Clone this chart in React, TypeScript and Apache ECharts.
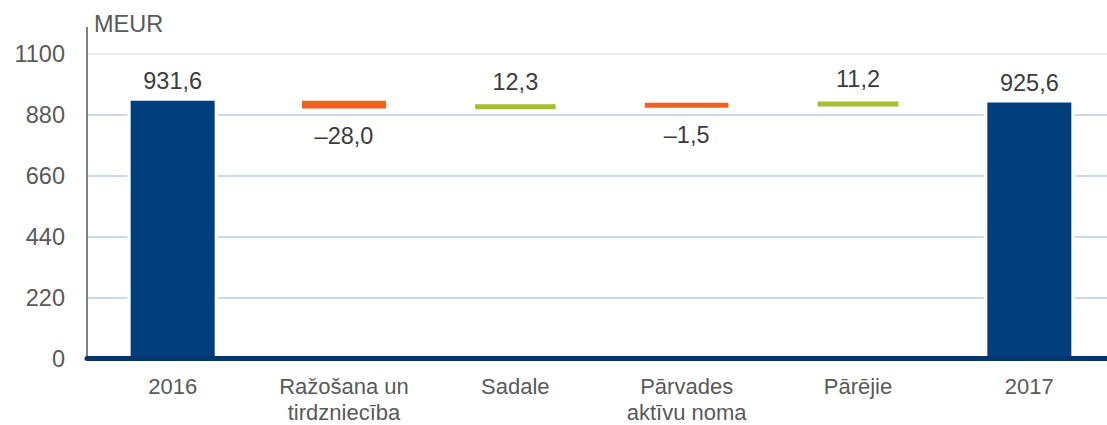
import React, { useEffect, useRef } from "react";
import * as echarts from "echarts";

const categories = ["2016", "Ražošana un\ntirdzniecība", "Sadale", "Pārvades\naktīvu noma", "Pārējie", "2017"];
const startTotal = 931.6;
const deltas = [-28.0, 12.3, -1.5, 11.2];
const endTotal = 925.6;
const yTicks = [0, 220, 440, 660, 880, 1100];

const NAVY = "#023e7d";
const ORANGE = "#f15f22";
const GREEN = "#a5bf32";

function fmt(v: number): string {
  const s = Math.abs(v).toFixed(1).replace(".", ",");
  return v < 0 ? "\u2013" + s : s;
}

export default function App() {
  const ref = useRef<HTMLDivElement>(null);
  useEffect(() => {
    if (!ref.current) return;
    const chart = echarts.init(ref.current, null, { renderer: "svg" });

    const baseVals: number[] = [0];
    const barVals: any[] = [];
    let running = startTotal;
    barVals.push({
      value: startTotal,
      itemStyle: { color: NAVY, borderWidth: 0 },
      label: { position: "top", distance: 8, formatter: () => fmt(startTotal) },
    });
    deltas.forEach((d) => {
      const next = running + d;
      baseVals.push(Math.min(running, next));
      const col = d < 0 ? ORANGE : GREEN;
      barVals.push({
        value: Math.abs(d),
        itemStyle: { color: col, borderColor: col, borderWidth: 5 },
        label: d < 0
          ? { position: "bottom", distance: 16, formatter: () => fmt(d) }
          : { position: "top", distance: 11, formatter: () => fmt(d) },
      });
      running = next;
    });
    baseVals.push(0);
    barVals.push({
      value: endTotal,
      itemStyle: { color: NAVY, borderWidth: 0 },
      label: { position: "top", distance: 8, formatter: () => fmt(endTotal) },
    });

    const haloData = [
      [0, startTotal],
      [categories.length - 1, endTotal],
    ];

    const FONT = "Liberation Sans, Arial, sans-serif";
    const BAR_W = 84;

    chart.setOption({
      animation: false,
      grid: { left: 87, right: 0, top: 54.2, bottom: 64.8, containLabel: false },
      xAxis: {
        type: "category",
        data: categories,
        z: 5,
        axisLine: { show: true, lineStyle: { color: "#04356b", width: 5 } },
        axisTick: { show: false },
        axisLabel: {
          color: "#595959",
          fontSize: 22,
          fontFamily: FONT,
          lineHeight: 25.5,
          margin: 15.5,
          interval: 0,
        },
      },
      yAxis: {
        type: "value",
        min: yTicks[0],
        max: yTicks[yTicks.length - 1],
        interval: 220,
        axisLine: { show: false },
        axisTick: { show: false },
        axisLabel: {
          color: "#595959",
          fontSize: 23.5,
          fontFamily: FONT,
          margin: 22,
          formatter: (v: number) => String(v),
        },
        splitLine: {
          show: true,
          lineStyle: {
            color: ["#c9d8eb", "#c9d8eb", "#c9d8eb", "#c9d8eb", "#c9d8eb", "#e4ebf5"],
            width: 2,
          },
        },
      },
      graphic: [
        {
          type: "line",
          shape: { x1: 87, y1: 27, x2: 87, y2: 358 },
          style: { stroke: "#808080", lineWidth: 2 },
          z: 1,
        },
        {
          type: "text",
          x: 94,
          y: 24.2,
          style: {
            text: "MEUR",
            fill: "#595959",
            font: `23.5px ${FONT}`,
            verticalAlign: "middle",
            align: "left",
          },
        },
      ],
      series: [
        {
          type: "custom",
          name: "halo",
          z: 1,
          silent: true,
          data: haloData,
          renderItem: (params: any, api: any) => {
            const top = api.coord([api.value(0), api.value(1)]);
            const base = api.coord([api.value(0), 0]);
            const w = BAR_W + 7;
            return {
              type: "rect",
              shape: { x: top[0] - w / 2, y: top[1] - 3.5, width: w, height: base[1] - top[1] + 3.5 },
              style: { fill: "#ffffff" },
            };
          },
        },
        {
          type: "bar",
          name: "base",
          stack: "wf",
          barWidth: BAR_W,
          itemStyle: { color: "transparent" },
          data: baseVals,
          silent: true,
          z: 2,
        },
        {
          type: "bar",
          name: "delta",
          stack: "wf",
          barWidth: BAR_W,
          z: 3,
          data: barVals,
          label: {
            show: true,
            color: "#3c3c3c",
            fontSize: 23.5,
            fontFamily: FONT,
            lineHeight: 23,
          },
        },
      ],
    });
    return () => chart.dispose();
  }, []);

  return (
    <div style={{ position: "absolute", left: 0, top: 0, width: 1107, height: 425, overflow: "hidden" }}>
      <div ref={ref} style={{ width: 1115, height: 425 }} />
    </div>
  );
}
